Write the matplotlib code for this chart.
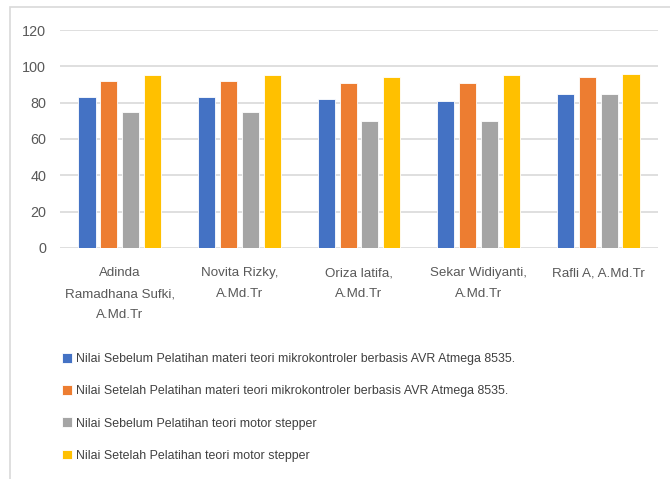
import matplotlib
matplotlib.use("Agg")
import matplotlib.pyplot as plt
from matplotlib.patches import Rectangle
import numpy as np

FONT = "Liberation Sans"
plt.rcParams["font.family"] = [FONT, "DejaVu Sans"]

categories = [
    "Adinda\nRamadhana Sufki,\nA.Md.Tr",
    "Novita Rizky,\nA.Md.Tr",
    "Oriza latifa,\nA.Md.Tr",
    "Sekar Widiyanti,\nA.Md.Tr",
    "Rafli A, A.Md.Tr",
]
series_names = [
    "Nilai Sebelum Pelatihan materi teori mikrokontroler berbasis AVR Atmega 8535.",
    "Nilai Setelah Pelatihan materi teori mikrokontroler berbasis AVR Atmega 8535.",
    "Nilai Sebelum Pelatihan teori motor stepper",
    "Nilai Setelah Pelatihan teori motor stepper",
]
sebelum_mikro = [83, 83, 82, 81, 85]
setelah_mikro = [92, 92, 91, 91, 94]
sebelum_stepper = [75, 75, 70, 70, 85]
setelah_stepper = [95, 95, 94, 95, 96]
series_values = [sebelum_mikro, setelah_mikro, sebelum_stepper, setelah_stepper]
colors = ["#4472C4", "#ED7D31", "#A5A5A5", "#FFC000"]
y_ticks = [0, 20, 40, 60, 80, 100, 120]
TEXT = "#595959"

W, H = 670, 479
fig = plt.figure(figsize=(W / 100, H / 100), dpi=100)
renderer = fig.canvas.get_renderer()


def fit_size(text, target_px, ref=10.0):
    """Font size (pt) at which `text` spans about target_px pixels."""
    t = fig.text(0, 0, text, fontsize=ref)
    w = t.get_window_extent(renderer).width
    t.remove()
    return ref * target_px / w


legend_size = fit_size(series_names[0], 440)
xlabel_size = fit_size("Ramadhana Sufki,", 110)
ylabel_size = fit_size("120", 24)

# chart frame
fig.patches.append(Rectangle((10 / W, -0.05), 1.0, 1 - 7 / H + 0.05,
                             transform=fig.transFigure, fill=False,
                             edgecolor="#d9d9d9", linewidth=1.2))

ax = fig.add_axes([60 / W, 1 - 248 / H, 598 / W, 218 / H])
x = np.arange(len(categories))
width = 0.143
pitch = 0.183
for i, (vals, c, lab) in enumerate(zip(series_values, colors, series_names)):
    offs = (i - 1.5) * pitch
    ax.bar(x + offs, vals, width, color=c, label=lab, edgecolor="white",
           linewidth=0.6, zorder=3)

ax.set_xlim(-0.5, len(categories) - 0.5)
ax.set_ylim(0, 120)
ax.set_yticks(y_ticks)
ax.set_xticks(x)
ax.set_xticklabels(categories, linespacing=2.0, fontsize=xlabel_size)
ax.tick_params(axis="both", length=0, colors=TEXT)
ax.tick_params(axis="y", labelsize=ylabel_size, pad=10)
ax.tick_params(axis="x", pad=14)
ax.grid(axis="y", color="#d9d9d9", linewidth=1.2, zorder=0)
for s in ax.spines.values():
    s.set_visible(False)

handles, labels = ax.get_legend_handles_labels()
leg = fig.legend(handles, labels, loc="upper left",
                 bbox_to_anchor=(62 / W, 1 - 353 / H), frameon=False,
                 fontsize=legend_size, labelcolor="#404040", handlelength=0.8,
                 handleheight=0.8, handletextpad=0.3, labelspacing=1.62,
                 borderpad=0, borderaxespad=0)

fig.savefig("out.png", dpi=100)
